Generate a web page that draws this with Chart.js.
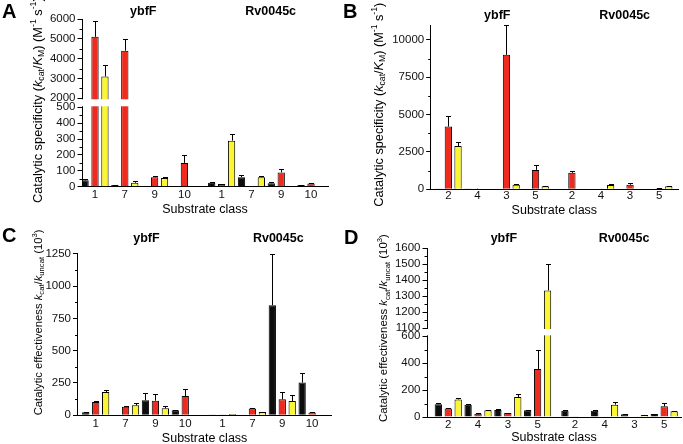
<!DOCTYPE html>
<html>
<head>
<meta charset="utf-8">
<script src="https://cdn.jsdelivr.net/npm/chart.js@4.4.1/dist/chart.umd.min.js"></script>
<style>
  html, body { margin: 0; padding: 0; background: #fff; }
  #fig { position: relative; width: 683px; height: 444px; }
  canvas { position: absolute; }
</style>
</head>
<body>
<div id="fig">
  <canvas id="chartA" width="341" height="222" style="left:0;top:0"></canvas>
  <canvas id="chartB" width="342" height="222" style="left:341px;top:0"></canvas>
  <canvas id="chartC" width="341" height="222" style="left:0;top:222px"></canvas>
  <canvas id="chartD" width="342" height="222" style="left:341px;top:222px"></canvas>
</div>
<script>
// substrate classes per enzyme (ybfF first four, Rv0045c last four)
const classesAC = ['1', '7', '9', '10', '1', '7', '9', '10'];
const classesBD = ['2', '4', '3', '5', '2', '4', '3', '5'];
const groupNames = ['ybfF', 'Rv0045c'];

// A - kcat/KM (M-1 s-1)
const aBlack     = [40, 10, null, 3, 25, 60, 22, 10];
const aBlackErr  = [6, 3, 0, 0, 5, 12, 5, 2];
const aRed       = [5100, 4400, 60, 150, 17, null, 90, 20];
const aRedErr    = [800, 600, 10, 50, 2, 0, 20, 4];
const aYellow    = [3100, 25, 55, null, 290, 60, 4, null];
const aYellowErr = [600, 8, 5, 0, 40, 10, 0, 0];
const aTicks     = [0, 100, 200, 300, 400, 500, 2000, 3000, 4000, 5000, 6000];
const aMinor     = [50, 150, 250, 350, 450, 2500, 3500, 4500, 5500];

// B - kcat/KM (M-1 s-1)
const bBlack     = [8, 5, null, null, null, null, null, null];
const bBlackErr  = [0, 0, 0, 0, 0, 0, 0, 0];
const bRed       = [4200, 40, 9000, 1300, 1100, 30, 300, 70];
const bRedErr    = [700, 10, 2000, 300, 100, 5, 100, 20];
const bYellow    = [2900, null, 300, 200, 10, 280, 20, 200];
const bYellowErr = [300, 0, 50, 20, 0, 50, 0, 40];
const bTicks     = [0, 2500, 5000, 7500, 10000];
const bMinor     = [1250, 3750, 6250, 8750];

// C - kcat/kuncat (10^3)
const cBlack     = [23, 5, 116, 39, 3, 4, 851, 253];
const cBlackErr  = [3, 0, 54, 3, 0, 0, 397, 74];
const cRed       = [103, 67, 113, 149, 3, 52, 124, 21];
const cRedErr    = [8, 5, 49, 52, 0, 2, 56, 2];
const cYellow    = [180, 77, 54, null, 10, 26, 111, null];
const cYellowErr = [13, 16, 21, 0, 0, 2, 46, 0];
const cTicks     = [0, 250, 500, 750, 1000, 1250];
const cMinor     = [125, 375, 625, 875, 1125];

// D - kcat/kuncat (10^3)
const dBlack     = [94, 92, 52, 50, 47, 47, 20, 22];
const dBlackErr  = [8, 7, 5, 5, 3, 3, 2, 2];
const dRed       = [64, 25, 30, 357, 5, null, 3, 79];
const dRedErr    = [5, 2, 3, 141, 0, 0, 0, 28];
const dYellow    = [131, 50, 149, 1335, null, 92, 15, 42];
const dYellowErr = [8, 5, 22, 165, 0, 17, 2, 5];
const dTicks     = [0, 200, 400, 600, 1100, 1200, 1300, 1400, 1500, 1600];
const dMinor     = [100, 300, 500, 1150, 1250, 1350, 1450, 1550];

const FONT = "'Liberation Sans', Arial, Helvetica, sans-serif";
const BLACK = '#0d0d0d', RED = '#ee2b1e', YELLOW = '#fbf631';

// slot positions of the class centres on the x axis (3 bars per class, wider gap between enzymes)
const slotCenters = [0, 3, 6, 9, 12.75, 15.75, 18.75, 21.75];

const titleSpecificity = [
  ['Catalytic specificity (', ''], ['k', 'i'], ['cat', 'sub'], ['/', ''], ['K', 'i'], ['M', 'sub'],
  [') (M', ''], ['-1', 'sup'], [' s', ''], ['-1', 'sup'], [')', '']
];
const titleEffectiveness = [
  ['Catalytic effectiveness ', ''], ['k', 'i'], ['cat', 'sub'], ['/', ''], ['k', 'i'], ['uncat', 'sub'],
  [' (10', ''], ['3', 'sup'], [')', '']
];

// y scale with a broken (cut) range
class BrokenLinearScale extends Chart.LinearScale {
  brokenDecimal(value) {
    const o = this.options;
    const lo = o.breakLow, hi = o.breakHigh, a = o.lowerShare, g = o.gapShare;
    if (value <= lo) return (value - this.min) / (lo - this.min) * a;
    if (value >= hi) return a + g + (value - hi) / (this.max - hi) * (1 - a - g);
    return a + (value - lo) / (hi - lo) * g;
  }
  getPixelForValue(value) {
    if (value === null || isNaN(value)) return NaN;
    return this.getPixelForDecimal(this.brokenDecimal(value));
  }
}
BrokenLinearScale.id = 'brokenLinear';
BrokenLinearScale.defaults = Chart.LinearScale.defaults;
Chart.register(BrokenLinearScale);

// white gap across axis and bars at the break
const breakGap = {
  id: 'breakGap',
  afterDatasetsDraw(chart) {
    const ys = chart.scales.y;
    if (ys.type !== 'brokenLinear') return;
    const top = ys.getPixelForValue(ys.options.breakHigh) + 1;
    const bottom = ys.getPixelForValue(ys.options.breakLow) - 1;
    const ctx = chart.ctx;
    ctx.save();
    ctx.fillStyle = '#fff';
    ctx.fillRect(ys.right - 5, top, chart.chartArea.right - ys.right + 6, bottom - top);
    ctx.restore();
  }
};

// upper error bars (SD)
const errorBars = {
  id: 'errorBars',
  afterDatasetsDraw(chart) {
    const ctx = chart.ctx;
    ctx.save();
    ctx.strokeStyle = '#000';
    ctx.lineWidth = 1;
    chart.data.datasets.forEach((ds, i) => {
      const meta = chart.getDatasetMeta(i);
      const ys = chart.scales[meta.yAxisID];
      meta.data.forEach((bar, j) => {
        const v = ds.data[j].y, e = ds.errors[j];
        if (v == null || !e) return;
        const x = Math.round(bar.x) + 0.5;
        const yTop = Math.round(ys.getPixelForValue(v + e)) + 0.5;
        ctx.beginPath();
        ctx.moveTo(x, bar.y);
        ctx.lineTo(x, yTop);
        ctx.moveTo(x - 2.5, yTop);
        ctx.lineTo(x + 2.5, yTop);
        ctx.stroke();
      });
    });
    ctx.restore();
  }
};
Chart.register(breakGap, errorBars);

// rotated axis title with italics, subscripts and superscripts, sized to a given length
function drawRotatedRich(ctx, parts, x, yBottom, length) {
  const fontFor = (kind, size) => (kind === 'i' ? 'italic ' : '') +
    ((kind === 'sub' || kind === 'sup') ? size * 0.68 : size) + 'px ' + FONT;
  let total = 0;
  parts.forEach(([text, kind]) => { ctx.font = fontFor(kind, 12); total += ctx.measureText(text).width; });
  const size = 12 * length / total;
  ctx.save();
  ctx.translate(x, yBottom);
  ctx.rotate(-Math.PI / 2);
  ctx.textAlign = 'left';
  ctx.textBaseline = 'alphabetic';
  let pos = 0;
  parts.forEach(([text, kind]) => {
    ctx.font = fontFor(kind, size);
    const dy = kind === 'sub' ? size * 0.22 : kind === 'sup' ? -size * 0.42 : 0;
    ctx.fillText(text, pos, dy + size * 0.36);
    pos += ctx.measureText(text).width;
  });
  ctx.restore();
}

function panelText(L, titleParts, minor) {
  return {
    id: 'panelText',
    afterDraw(chart) {
      const ctx = chart.ctx, xs = chart.scales.x, ys = chart.scales.y, area = chart.chartArea;
      ctx.save();
      // short minor ticks on the y axis
      ctx.strokeStyle = '#000';
      ctx.lineWidth = 1;
      ctx.beginPath();
      minor.forEach(v => {
        const y = Math.round(ys.getPixelForValue(v)) + 0.5;
        ctx.moveTo(area.left, y);
        ctx.lineTo(area.left - 2.5, y);
      });
      ctx.stroke();
      ctx.fillStyle = '#000';
      ctx.font = 'bold 20px ' + FONT;
      ctx.textAlign = 'left';
      ctx.textBaseline = 'alphabetic';
      ctx.fillText(L.letter, L.letterX, L.letterY);
      ctx.font = 'bold 12.5px ' + FONT;
      ctx.textAlign = 'center';
      ctx.textBaseline = 'middle';
      groupNames.forEach((g, i) => ctx.fillText(g, xs.getPixelForValue(L.groupX[i]), L.groupY));
      ctx.font = '12.5px ' + FONT;
      ctx.fillText('Substrate class', (area.left + area.right) / 2, L.xTitleY);
      drawRotatedRich(ctx, titleParts, L.yTitleX, L.yTitleBottom, L.yTitleLen);
      ctx.restore();
    }
  };
}

function series(values, errors, offset, color) {
  return {
    data: values.map((v, i) => ({ x: slotCenters[i] + offset, y: v })),
    errors: errors,
    backgroundColor: color,
    borderColor: '#000',
    borderWidth: 1,
    grouped: false,
    barPercentage: 1,
    categoryPercentage: 1,
    maxBarThickness: 7.3,
    inflateAmount: 0
  };
}

function renderPanel(L, classes, black, blackErr, red, redErr, yellow, yellowErr, ticks, minor, yOpts, titleParts) {
  const ctx = document.getElementById(L.canvas).getContext('2d');
  new Chart(ctx, {
    type: 'bar',
    data: {
      datasets: [
        series(black, blackErr, -1, BLACK),
        series(red, redErr, 0, RED),
        series(yellow, yellowErr, 1, YELLOW)
      ]
    },
    options: {
      responsive: false,
      animation: false,
      events: [],
      layout: { padding: { left: 0, top: L.padTop, right: L.padRight, bottom: 0 } },
      plugins: { legend: { display: false }, tooltip: { enabled: false } },
      scales: {
        x: {
          type: 'linear',
          min: L.xMin,
          max: L.xMax,
          offset: false,
          afterFit: s => { s.height = L.xHeight; },
          afterBuildTicks: s => { s.ticks = slotCenters.map(v => ({ value: v })); },
          ticks: {
            autoSkip: false, maxRotation: 0, padding: L.xTickPad, color: '#111',
            font: { family: FONT, size: 11.5 },
            callback: (v, i) => classes[i]
          },
          grid: { display: false, drawTicks: false },
          border: { display: true, color: '#000', width: 1 }
        },
        y: Object.assign({
          min: 0,
          afterFit: s => { s.width = L.yWidth; },
          afterBuildTicks: s => { s.ticks = ticks.map(v => ({ value: v })); },
          ticks: {
            autoSkip: false, padding: 2, color: '#111',
            font: { family: FONT, size: 11.5 },
            callback: v => String(v)
          },
          grid: { drawOnChartArea: false, color: '#000', tickLength: 4.5, lineWidth: 1 },
          border: { display: true, color: '#000', width: 1 }
        }, yOpts)
      }
    },
    plugins: [panelText(L, titleParts, minor)]
  });
}

const layoutA = { canvas: 'chartA', letter: 'A', letterX: 2, letterY: 18, padTop: 19, padRight: 13, yWidth: 82,
  xHeight: 35.3, xMin: -1.31, xMax: 23.46, xTickPad: 1, groupX: [4.86, 17.69], groupY: 11.3, xTitleY: 210,
  yTitleX: 37, yTitleBottom: 203, yTitleLen: 206 };
const layoutB = { canvas: 'chartB', letter: 'B', letterX: 2, letterY: 18, padTop: 25, padRight: 5, yWidth: 89.7,
  xHeight: 32.7, xMin: -1.82, xMax: 23.7, xTickPad: 0, groupX: [5.05, 18.2], groupY: 15.5, xTitleY: 210.7,
  yTitleX: 37, yTitleBottom: 206.7, yTitleLen: 204 };
const layoutC = { canvas: 'chartC', letter: 'C', letterX: 2, letterY: 20, padTop: 31.7, padRight: 9.3, yWidth: 77.5,
  xHeight: 28.7, xMin: -1.83, xMax: 23.72, xTickPad: 1.4, groupX: [5.1, 18.35], groupY: 16.7, xTitleY: 216.7,
  yTitleX: 37.5, yTitleBottom: 193.3, yTitleLen: 186 };
const layoutD = { canvas: 'chartD', letter: 'D', letterX: 3, letterY: 22, padTop: 26, padRight: 2, yWidth: 86,
  xHeight: 27, xMin: -2.14, xMax: 23.44, xTickPad: 1.4, groupX: [5.6, 17.7], groupY: 17, xTitleY: 216,
  yTitleX: 42, yTitleBottom: 200, yTitleLen: 188 };

document.addEventListener('DOMContentLoaded', () => {
  renderPanel(layoutA, classesAC, aBlack, aBlackErr, aRed, aRedErr, aYellow, aYellowErr, aTicks, aMinor,
    { type: 'brokenLinear', max: 6000, breakLow: 500, breakHigh: 2000, lowerShare: 0.4735, gapShare: 0.0537 },
    titleSpecificity);
  renderPanel(layoutB, classesBD, bBlack, bBlackErr, bRed, bRedErr, bYellow, bYellowErr, bTicks, bMinor,
    { type: 'linear', max: 11000 }, titleSpecificity);
  renderPanel(layoutC, classesAC, cBlack, cBlackErr, cRed, cRedErr, cYellow, cYellowErr, cTicks, cMinor,
    { type: 'linear', max: 1250 }, titleEffectiveness);
  renderPanel(layoutD, classesBD, dBlack, dBlackErr, dRed, dRedErr, dYellow, dYellowErr, dTicks, dMinor,
    { type: 'brokenLinear', max: 1600, breakLow: 600, breakHigh: 1100, lowerShare: 0.4775, gapShare: 0.049 },
    titleEffectiveness);
});
</script>
</body>
</html>
